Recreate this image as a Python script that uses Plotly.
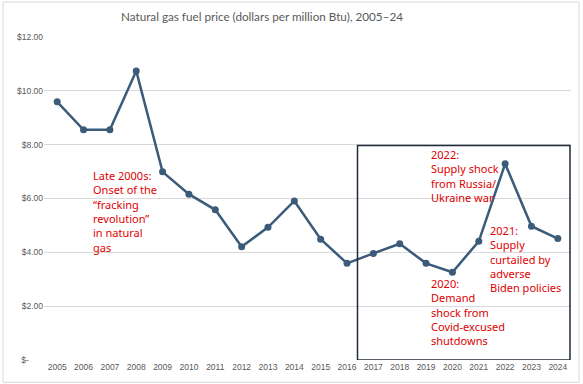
import plotly.graph_objects as go

years = [str(y) for y in range(2005, 2025)]
prices = [9.59, 8.55, 8.55, 10.74, 6.99, 6.16, 5.58, 4.21, 4.93, 5.91,
          4.49, 3.59, 3.96, 4.32, 3.59, 3.26, 4.41, 7.29, 4.97, 4.51]
y_tickvals = [0, 2, 4, 6, 8, 10, 12]
y_ticktext = ["$-\u00a0\u00a0\u00a0\u00a0\u00a0\u00a0", "$2.00", "$4.00", "$6.00", "$8.00", "$10.00", "$12.00"]

title_text = "Natural gas fuel price (dollars per million Btu), 2005\u201324"
notes = [
    ("Late 2000s:<br>Onset of the<br>\u201cfracking<br>revolution\u201d<br>in natural<br>gas", 92, 166),
    ("2022:<br>Supply shock<br>from Russia/<br>Ukraine war", 430, 145),
    ("2021:<br>Supply<br>curtailed by<br>adverse<br>Biden policies", 489, 221),
    ("2020:<br>Demand<br>shock from<br>Covid-excused<br>shutdowns", 430, 274),
]

W, H = 583, 384
L, R, T, B = 44, 12, 37, 24.3
pw, ph = W - L - R, H - T - B

def px(x):
    return (x - L) / pw

def py(y):
    return (H - B - y) / ph

fig = go.Figure()
fig.add_trace(go.Scatter(
    x=years, y=prices, mode="lines+markers",
    line=dict(color="#3B5B7A", width=2.5),
    marker=dict(color="#3B5B7A", size=7),
    hoverinfo="skip",
))

annotations = [dict(
    text=title_text, xref="paper", yref="paper",
    x=px(262), y=py(16), xanchor="center", yanchor="middle",
    showarrow=False, font=dict(family="Lato", size=11.7, color="#595959"),
)]
for txt, x, y in notes:
    annotations.append(dict(
        text=txt, xref="paper", yref="paper", x=px(x - 1), y=py(y),
        xanchor="left", yanchor="top", align="left", showarrow=False,
        font=dict(family="Noto Sans", size=11, color="#E00000"),
    ))

shapes = [
    dict(type="rect", xref="paper", yref="paper",
         x0=px(3), x1=px(579), y0=py(382), y1=py(2),
         line=dict(color="#D9D9D9", width=1), layer="below"),
    dict(type="rect", xref="paper", yref="y",
         x0=px(357.5), x1=px(570), y0=0, y1=7.97,
         line=dict(color="#1F2B38", width=1.5)),
]

fig.update_layout(
    width=W, height=H,
    margin=dict(l=L, r=R, t=T, b=B),
    paper_bgcolor="white", plot_bgcolor="white",
    showlegend=False,
    annotations=annotations,
    shapes=shapes,
    font=dict(family="Liberation Sans", color="#595959"),
    xaxis=dict(type="category", range=[-0.5, 19.5], showgrid=False,
               showline=False, ticks="", tickfont=dict(size=8.5, color="#595959"),
               fixedrange=True),
    yaxis=dict(range=[0, 12], tickvals=y_tickvals, ticktext=y_ticktext,
               showgrid=True, gridcolor="#D9D9D9", gridwidth=1,
               zeroline=False, showline=False, ticks="",
               tickfont=dict(size=8.5, color="#595959"), fixedrange=True),
)

fig.write_html("out.html", config={"displayModeBar": False},
               post_script="document.body.style.margin='0';")
